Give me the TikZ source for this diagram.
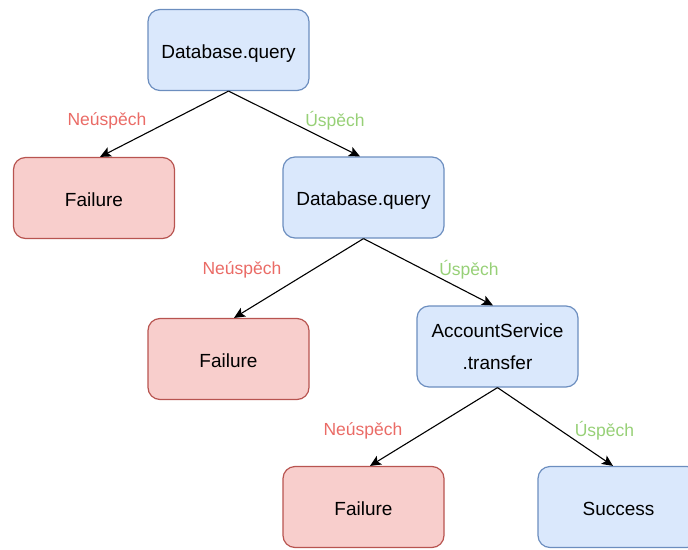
\documentclass[tikz,border=0pt]{standalone}
\usepackage{fontspec}
\setmainfont{Liberation Sans}
\usetikzlibrary{arrows.meta}
\definecolor{bluefill}{HTML}{DAE8FC}
\definecolor{bluedraw}{HTML}{6C8EBF}
\definecolor{redfill}{HTML}{F8CECC}
\definecolor{reddraw}{HTML}{B85450}
\definecolor{failtext}{HTML}{EA6B66}
\definecolor{oktext}{HTML}{97D077}
\tikzset{
  box/.style={rounded corners=12pt, minimum width=161pt, minimum height=81pt,
    inner sep=0pt, line width=1.2pt, align=center,
    font=\fontsize{19}{32}\selectfont},
  oneline/.style={text height=20.6pt, text depth=4pt},
  okbox/.style={box, fill=bluefill, draw=bluedraw},
  failbox/.style={box, fill=redfill, draw=reddraw},
  edge/.style={line width=1.1pt, -{Stealth[length=11pt,width=10pt,inset=2.5pt]}},
  faillabel/.style={text=failtext, font=\fontsize{17.5}{20}\selectfont},
  oklabel/.style={text=oktext, font=\fontsize{17.5}{20}\selectfont}
}
\begin{document}
\begin{tikzpicture}[x=1pt,y=-1pt]
\path[use as bounding box] (0,0) rectangle (688,549);
\clip (0,0) rectangle (688,549);

% decision tree nodes
\node[okbox,oneline]   (db1)   at (228.5,50)    {Database.query};
\node[failbox,oneline] (fail1) at (94,198)      {Failure};
\node[okbox,oneline]   (db2)   at (363.5,197.5) {Database.query};
\node[failbox,oneline] (fail2) at (228.5,359)   {Failure};
\node[okbox]           (acct)  at (497.5,346.5) {AccountService\\.transfer};
\node[failbox,oneline] (fail3) at (363.5,507)   {Failure};
\node[okbox,oneline]   (succ)  at (618.5,507)   {Success};

% branches
\draw[edge] (db1.south)  -- ([xshift=6pt]fail1.north);
\draw[edge] (db1.south)  -- ([xshift=-3.5pt]db2.north);
\draw[edge] (db2.south)  -- ([xshift=5.5pt]fail2.north);
\draw[edge] (db2.south)  -- ([xshift=-4.5pt]acct.north);
\draw[edge] (acct.south) -- ([xshift=6.5pt]fail3.north);
\draw[edge] (acct.south) -- ([xshift=-5.5pt]succ.north);

% branch labels
\node[faillabel] (l1f) at (107,120.5) {Neúspěch};
\node[oklabel]   (l1o) at (335,120.5) {Úspěch};
\node[faillabel] (l2f) at (242,269.5) {Neúspěch};
\node[oklabel]   (l2o) at (469,269.5) {Úspěch};
\node[faillabel] (l3f) at (363,430.5) {Neúspěch};
\node[oklabel]   (l3o) at (604.5,430.5) {Úspěch};
\end{tikzpicture}
\end{document}
